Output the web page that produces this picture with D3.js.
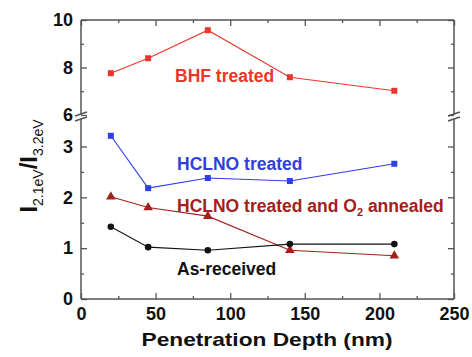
<!DOCTYPE html>
<html>
<head>
<meta charset="utf-8">
<script src="https://cdn.jsdelivr.net/npm/d3@7"></script>
<style>
  body { margin: 0; background: #fff; }
  text { font-family: "Liberation Sans", Arial, sans-serif; font-weight: bold; }
</style>
</head>
<body>
<script>
var depth = [20, 45, 85, 140, 210];
var bhf = [7.76, 8.39, 9.57, 7.59, 7.02];
var hclno = [3.21, 2.18, 2.38, 2.32, 2.66];
var annealed = [2.01, 1.80, 1.63, 0.96, 0.85];
var asReceived = [1.42, 1.02, 0.96, 1.08, 1.08];
var xTicks = [0, 50, 100, 150, 200, 250];
var lowTicks = [0, 1, 2, 3];
var highTicks = [6, 8, 10];

var W = 472, H = 357;
var mLeft = 81, mRight = 454, mTop = 20, mBottom = 299, brk = 116.5;

var svg = d3.select("body").append("svg").attr("width", W).attr("height", H);

var x = d3.scaleLinear().domain([0, 250]).range([mLeft, mRight]);
var yLow = d3.scaleLinear().domain([0, 3.56]).range([mBottom, 118]);
var yHigh = d3.scaleLinear().domain([6, 10]).range([115, mTop]);

function yv(v) { return v >= 5 ? yHigh(v) : yLow(v); }

var axisColor = "#555";
var fmt = d3.format("d");

// x axes bottom / top
svg.append("g").attr("transform", "translate(0," + mBottom + ")")
  .call(d3.axisBottom(x).tickValues(xTicks).tickSize(-6).tickPadding(8).tickFormat(fmt));
svg.append("g").attr("transform", "translate(0," + mBottom + ")")
  .call(d3.axisBottom(x).tickValues([25, 75, 125, 175, 225]).tickSize(-3).tickFormat(""));
svg.append("g").attr("transform", "translate(0," + mTop + ")")
  .call(d3.axisTop(x).tickValues(xTicks).tickSize(-6).tickFormat(""));
svg.append("g").attr("transform", "translate(0," + mTop + ")")
  .call(d3.axisTop(x).tickValues([25, 75, 125, 175, 225]).tickSize(-3).tickFormat(""));

// y axes left / right, two segments
svg.append("g").attr("transform", "translate(" + mLeft + ",0)")
  .call(d3.axisLeft(yLow).tickValues(lowTicks).tickSize(-6).tickPadding(8).tickFormat(fmt));
svg.append("g").attr("transform", "translate(" + mLeft + ",0)")
  .call(d3.axisLeft(yLow).tickValues([0.5, 1.5, 2.5]).tickSize(-3).tickFormat(""));
svg.append("g").attr("transform", "translate(" + mLeft + ",0)")
  .call(d3.axisLeft(yHigh).tickValues(highTicks).tickSize(-6).tickPadding(8).tickFormat(fmt));
svg.append("g").attr("transform", "translate(" + mLeft + ",0)")
  .call(d3.axisLeft(yHigh).tickValues([7, 9]).tickSize(-3).tickFormat(""));
svg.append("g").attr("transform", "translate(" + mRight + ",0)")
  .call(d3.axisRight(yLow).tickValues(lowTicks).tickSize(-6).tickFormat(""));
svg.append("g").attr("transform", "translate(" + mRight + ",0)")
  .call(d3.axisRight(yLow).tickValues([0.5, 1.5, 2.5]).tickSize(-3).tickFormat(""));
svg.append("g").attr("transform", "translate(" + mRight + ",0)")
  .call(d3.axisRight(yHigh).tickValues(highTicks).tickSize(-6).tickFormat(""));
svg.append("g").attr("transform", "translate(" + mRight + ",0)")
  .call(d3.axisRight(yHigh).tickValues([7, 9]).tickSize(-3).tickFormat(""));

svg.selectAll(".domain").remove();
svg.selectAll(".tick line").attr("stroke", axisColor).attr("stroke-width", 1.3);
svg.selectAll(".tick text").attr("font-size", 18).attr("fill", "#111")
  .attr("font-family", "Liberation Sans, Arial, sans-serif").attr("font-weight", "bold");

// frame
var frame = svg.append("g").attr("stroke", axisColor).attr("stroke-width", 1.5).attr("fill", "none");
frame.append("line").attr("x1", mLeft).attr("x2", mRight).attr("y1", mTop).attr("y2", mTop);
frame.append("line").attr("x1", mLeft).attr("x2", mRight).attr("y1", mBottom).attr("y2", mBottom);
[mLeft, mRight].forEach(function(xx) {
  frame.append("line").attr("x1", xx).attr("x2", xx).attr("y1", mTop).attr("y2", brk - 2);
  frame.append("line").attr("x1", xx).attr("x2", xx).attr("y1", brk + 2).attr("y2", mBottom);
  // break marks
  frame.append("line").attr("x1", xx - 6).attr("x2", xx + 6).attr("y1", brk - 0.5).attr("y2", brk - 4.5);
  frame.append("line").attr("x1", xx - 6).attr("x2", xx + 6).attr("y1", brk + 4.5).attr("y2", brk + 0.5);
});

// series
var series = [
  { vals: bhf, color: "#e8372a", shape: "square" },
  { vals: hclno, color: "#2f3fe0", shape: "square" },
  { vals: annealed, color: "#a3201c", shape: "triangle" },
  { vals: asReceived, color: "#111", shape: "circle" }
];

var line = d3.line().x(function(d) { return x(d[0]); }).y(function(d) { return yv(d[1]); });

series.forEach(function(s) {
  var pts = depth.map(function(d, i) { return [d, s.vals[i]]; });
  svg.append("path").datum(pts).attr("d", line)
    .attr("fill", "none").attr("stroke", s.color).attr("stroke-width", 1.1);
  var sym = s.shape === "square" ? d3.symbolSquare : s.shape === "triangle" ? d3.symbolTriangle : d3.symbolCircle;
  var size = s.shape === "square" ? 36 : s.shape === "triangle" ? 40 : 34;
  svg.selectAll(null).data(pts).enter().append("path")
    .attr("d", d3.symbol().type(sym).size(size))
    .attr("transform", function(d) { return "translate(" + x(d[0]) + "," + yv(d[1]) + ")"; })
    .attr("fill", s.color);
});

// series labels
var labels = [
  { text: "BHF treated", x: 175, y: 82, color: "#e8372a" },
  { text: "HCLNO treated", x: 177, y: 170, color: "#2f3fe0" },
  { text: "As-received", x: 177, y: 275, color: "#111" }
];
labels.forEach(function(l) {
  svg.append("text").attr("x", l.x).attr("y", l.y).attr("font-size", 17.5)
    .attr("fill", l.color).text(l.text);
});
var ann = svg.append("text").attr("x", 177).attr("y", 212).attr("font-size", 17.5).attr("fill", "#a3201c");
ann.append("tspan").text("HCLNO treated and O");
ann.append("tspan").attr("font-size", 11).attr("dy", 4).text("2");
ann.append("tspan").attr("dy", -4).text(" annealed");

// axis titles
svg.append("text").attr("x", 267).attr("y", 346).attr("text-anchor", "middle")
  .attr("font-size", 19).attr("textLength", 251).attr("lengthAdjust", "spacingAndGlyphs")
  .attr("fill", "#111").text("Penetration Depth (nm)");

var yt = svg.append("text").attr("transform", "translate(37,166) rotate(-90)")
  .attr("text-anchor", "middle").attr("fill", "#111").attr("font-size", 24);
yt.append("tspan").text("I");
yt.append("tspan").attr("font-size", 14).attr("font-weight", "normal").attr("dy", 6).text("2.1eV");
yt.append("tspan").attr("dy", -6).text("/I");
yt.append("tspan").attr("font-size", 14).attr("font-weight", "normal").attr("dy", 6).text("3.2eV");
</script>
</body>
</html>
